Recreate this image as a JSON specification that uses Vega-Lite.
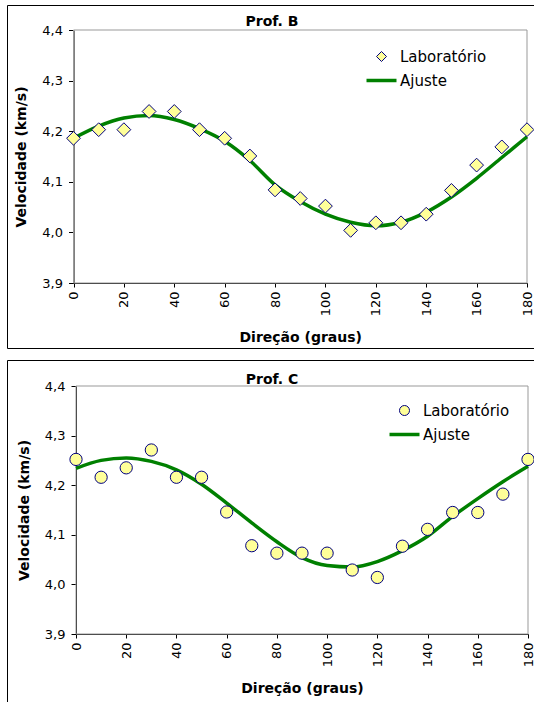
{
  "$schema": "https://vega.github.io/schema/vega-lite/v6.json",
  "padding": {"left": 6, "top": 4, "right": 0, "bottom": 0},
  "autosize": {"type": "pad"},
  "background": "white",
  "spacing": 10,
  "resolve": {
    "scale": {"shape": "independent", "fill": "independent", "stroke": "independent", "strokeWidth": "independent"},
    "legend": {"shape": "independent", "fill": "independent", "stroke": "independent", "strokeWidth": "independent"}
  },
  "config": {
    "font": "DejaVu Sans",
    "view": {"stroke": "#000000", "strokeWidth": 1},
    "axis": {"grid": false, "domainColor": "#000", "tickColor": "#000", "labelColor": "#000", "titleColor": "#000", "labelFont": "DejaVu Sans", "labelFontSize": 13, "titleFont": "DejaVu Sans", "titleFontSize": 14, "titleFontWeight": "bold", "labelOverlap": false, "labelFlush": false},
    "title": {"font": "DejaVu Sans", "fontSize": 14, "fontWeight": "bold", "color": "#000"},
    "legend": {"labelFont": "DejaVu Sans", "labelFontSize": 15, "labelColor": "#000", "padding": 0}
  },
  "datasets": {
    "bLab": [
      {"dir": 0, "vel": 4.186, "serie": "Laboratório"},
      {"dir": 10, "vel": 4.203, "serie": "Laboratório"},
      {"dir": 20, "vel": 4.203, "serie": "Laboratório"},
      {"dir": 30, "vel": 4.239, "serie": "Laboratório"},
      {"dir": 40, "vel": 4.239, "serie": "Laboratório"},
      {"dir": 50, "vel": 4.203, "serie": "Laboratório"},
      {"dir": 60, "vel": 4.186, "serie": "Laboratório"},
      {"dir": 70, "vel": 4.151, "serie": "Laboratório"},
      {"dir": 80, "vel": 4.084, "serie": "Laboratório"},
      {"dir": 90, "vel": 4.067, "serie": "Laboratório"},
      {"dir": 100, "vel": 4.052, "serie": "Laboratório"},
      {"dir": 110, "vel": 4.004, "serie": "Laboratório"},
      {"dir": 120, "vel": 4.019, "serie": "Laboratório"},
      {"dir": 130, "vel": 4.019, "serie": "Laboratório"},
      {"dir": 140, "vel": 4.036, "serie": "Laboratório"},
      {"dir": 150, "vel": 4.083, "serie": "Laboratório"},
      {"dir": 160, "vel": 4.133, "serie": "Laboratório"},
      {"dir": 170, "vel": 4.169, "serie": "Laboratório"},
      {"dir": 180, "vel": 4.203, "serie": "Laboratório"}
    ],
    "bFit": [
      {"dir": 0, "vel": 4.186, "serie": "Ajuste"},
      {"dir": 10, "vel": 4.210, "serie": "Ajuste"},
      {"dir": 20, "vel": 4.226, "serie": "Ajuste"},
      {"dir": 30, "vel": 4.231, "serie": "Ajuste"},
      {"dir": 40, "vel": 4.223, "serie": "Ajuste"},
      {"dir": 50, "vel": 4.205, "serie": "Ajuste"},
      {"dir": 60, "vel": 4.180, "serie": "Ajuste"},
      {"dir": 70, "vel": 4.142, "serie": "Ajuste"},
      {"dir": 80, "vel": 4.094, "serie": "Ajuste"},
      {"dir": 90, "vel": 4.061, "serie": "Ajuste"},
      {"dir": 100, "vel": 4.036, "serie": "Ajuste"},
      {"dir": 110, "vel": 4.020, "serie": "Ajuste"},
      {"dir": 120, "vel": 4.013, "serie": "Ajuste"},
      {"dir": 130, "vel": 4.020, "serie": "Ajuste"},
      {"dir": 140, "vel": 4.040, "serie": "Ajuste"},
      {"dir": 150, "vel": 4.070, "serie": "Ajuste"},
      {"dir": 160, "vel": 4.107, "serie": "Ajuste"},
      {"dir": 170, "vel": 4.148, "serie": "Ajuste"},
      {"dir": 180, "vel": 4.189, "serie": "Ajuste"}
    ],
    "cLab": [
      {"dir": 0, "vel": 4.252, "serie": "Laboratório"},
      {"dir": 10, "vel": 4.216, "serie": "Laboratório"},
      {"dir": 20, "vel": 4.235, "serie": "Laboratório"},
      {"dir": 30, "vel": 4.271, "serie": "Laboratório"},
      {"dir": 40, "vel": 4.216, "serie": "Laboratório"},
      {"dir": 50, "vel": 4.216, "serie": "Laboratório"},
      {"dir": 60, "vel": 4.146, "serie": "Laboratório"},
      {"dir": 70, "vel": 4.078, "serie": "Laboratório"},
      {"dir": 80, "vel": 4.063, "serie": "Laboratório"},
      {"dir": 90, "vel": 4.063, "serie": "Laboratório"},
      {"dir": 100, "vel": 4.063, "serie": "Laboratório"},
      {"dir": 110, "vel": 4.029, "serie": "Laboratório"},
      {"dir": 120, "vel": 4.014, "serie": "Laboratório"},
      {"dir": 130, "vel": 4.077, "serie": "Laboratório"},
      {"dir": 140, "vel": 4.111, "serie": "Laboratório"},
      {"dir": 150, "vel": 4.145, "serie": "Laboratório"},
      {"dir": 160, "vel": 4.145, "serie": "Laboratório"},
      {"dir": 170, "vel": 4.182, "serie": "Laboratório"},
      {"dir": 180, "vel": 4.252, "serie": "Laboratório"}
    ],
    "cFit": [
      {"dir": 0, "vel": 4.234, "serie": "Ajuste"},
      {"dir": 10, "vel": 4.250, "serie": "Ajuste"},
      {"dir": 20, "vel": 4.255, "serie": "Ajuste"},
      {"dir": 30, "vel": 4.248, "serie": "Ajuste"},
      {"dir": 40, "vel": 4.231, "serie": "Ajuste"},
      {"dir": 50, "vel": 4.202, "serie": "Ajuste"},
      {"dir": 60, "vel": 4.164, "serie": "Ajuste"},
      {"dir": 70, "vel": 4.124, "serie": "Ajuste"},
      {"dir": 80, "vel": 4.086, "serie": "Ajuste"},
      {"dir": 90, "vel": 4.054, "serie": "Ajuste"},
      {"dir": 100, "vel": 4.038, "serie": "Ajuste"},
      {"dir": 110, "vel": 4.035, "serie": "Ajuste"},
      {"dir": 120, "vel": 4.046, "serie": "Ajuste"},
      {"dir": 130, "vel": 4.068, "serie": "Ajuste"},
      {"dir": 140, "vel": 4.097, "serie": "Ajuste"},
      {"dir": 150, "vel": 4.137, "serie": "Ajuste"},
      {"dir": 160, "vel": 4.173, "serie": "Ajuste"},
      {"dir": 170, "vel": 4.207, "serie": "Ajuste"},
      {"dir": 180, "vel": 4.238, "serie": "Ajuste"}
    ]
  },
  "vconcat": [
    {
      "width": 530,
      "height": 343,
      "title": {"text": "Prof. B", "anchor": "middle", "frame": "group", "offset": -35, "baseline": "alphabetic"},
      "layer": [
        {
          "data": {"values": [{}]},
          "mark": {"type": "rect", "fillOpacity": 0, "stroke": "#999999", "strokeWidth": 1},
          "encoding": {
            "x": {"datum": 0, "type": "quantitative", "scale": {"domain": [0, 180], "range": [66.5, 520], "nice": false, "zero": false}, "axis": {"title": "Direção (graus)", "values": [0, 10, 20, 30, 40, 50, 60, 70, 80, 90, 100, 110, 120, 130, 140, 150, 160, 170, 180], "labelExpr": "datum.value % 20 === 0 ? datum.label : ''", "labelAngle": -90, "offset": -65, "tickSize": 4, "labelPadding": 4, "titlePadding": 15}},
            "x2": {"datum": 180},
            "y": {"datum": 4.4, "type": "quantitative", "scale": {"domain": [3.9, 4.4], "range": [278, 25], "nice": false, "zero": false}, "axis": {"title": "Velocidade (km/s)", "values": [3.9, 3.95, 4.0, 4.05, 4.1, 4.15, 4.2, 4.25, 4.3, 4.35, 4.4], "labelExpr": "round(datum.value * 100) % 10 === 0 ? replace(format(datum.value, '.1f'), '.', ',') : ''", "offset": -66.5, "tickSize": 5, "labelPadding": 6, "titlePadding": 13}},
            "y2": {"datum": 3.9}
          }
        },
        {
          "data": {"name": "bFit"},
          "mark": {"type": "line", "interpolate": "monotone"},
          "encoding": {
            "x": {"field": "dir", "type": "quantitative", "title": "Direção (graus)"},
            "y": {"field": "vel", "type": "quantitative", "title": "Velocidade (km/s)"},
            "stroke": {"field": "serie", "type": "nominal", "scale": {"domain": ["Laboratório", "Ajuste"], "range": ["#000080", "#008000"]}, "legend": {"title": null, "orient": "none", "legendX": 360, "legendY": 44, "symbolSize": 900, "symbolOffset": 7, "labelOffset": 11, "rowPadding": 8, "encode": {"symbols": {"update": {"size": {"signal": "datum.value === 'Ajuste' ? 900 : 100"}}}}}},
            "strokeWidth": {"field": "serie", "type": "ordinal", "scale": {"domain": ["Laboratório", "Ajuste"], "range": [1, 3.5]}, "legend": {"title": null, "orient": "none", "legendX": 360, "legendY": 44, "symbolSize": 900, "symbolOffset": 7, "labelOffset": 11, "rowPadding": 8, "encode": {"symbols": {"update": {"size": {"signal": "datum.value === 'Ajuste' ? 900 : 100"}}}}}}
          }
        },
        {
          "data": {"name": "bLab"},
          "mark": {"type": "point", "filled": true, "opacity": 1, "size": 190},
          "encoding": {
            "x": {"field": "dir", "type": "quantitative", "title": "Direção (graus)"},
            "y": {"field": "vel", "type": "quantitative", "title": "Velocidade (km/s)"},
            "shape": {"field": "serie", "type": "nominal", "scale": {"domain": ["Laboratório", "Ajuste"], "range": ["diamond", "stroke"]}, "legend": {"title": null, "orient": "none", "legendX": 360, "legendY": 44, "symbolSize": 900, "symbolOffset": 7, "labelOffset": 11, "rowPadding": 8, "encode": {"symbols": {"update": {"size": {"signal": "datum.value === 'Ajuste' ? 900 : 100"}}}}}},
            "fill": {"field": "serie", "type": "nominal", "scale": {"domain": ["Laboratório", "Ajuste"], "range": ["#FFFF99", "transparent"]}, "legend": {"title": null, "orient": "none", "legendX": 360, "legendY": 44, "symbolSize": 900, "symbolOffset": 7, "labelOffset": 11, "rowPadding": 8, "encode": {"symbols": {"update": {"size": {"signal": "datum.value === 'Ajuste' ? 900 : 100"}}}}}},
            "stroke": {"field": "serie", "type": "nominal", "scale": {"domain": ["Laboratório", "Ajuste"], "range": ["#000080", "#008000"]}, "legend": {"title": null, "orient": "none", "legendX": 360, "legendY": 44, "symbolSize": 900, "symbolOffset": 7, "labelOffset": 11, "rowPadding": 8, "encode": {"symbols": {"update": {"size": {"signal": "datum.value === 'Ajuste' ? 900 : 100"}}}}}},
            "strokeWidth": {"field": "serie", "type": "ordinal", "scale": {"domain": ["Laboratório", "Ajuste"], "range": [1, 3.5]}, "legend": {"title": null, "orient": "none", "legendX": 360, "legendY": 44, "symbolSize": 900, "symbolOffset": 7, "labelOffset": 11, "rowPadding": 8, "encode": {"symbols": {"update": {"size": {"signal": "datum.value === 'Ajuste' ? 900 : 100"}}}}}}
          }
        }
      ]
    },
    {
      "width": 530,
      "height": 350,
      "title": {"text": "Prof. C", "anchor": "middle", "frame": "group", "offset": -38, "baseline": "alphabetic"},
      "layer": [
        {
          "data": {"values": [{}]},
          "mark": {"type": "rect", "fillOpacity": 0, "stroke": "#999999", "strokeWidth": 1},
          "encoding": {
            "x": {"datum": 0, "type": "quantitative", "scale": {"domain": [0, 180], "range": [69, 521], "nice": false, "zero": false}, "axis": {"title": "Direção (graus)", "values": [0, 10, 20, 30, 40, 50, 60, 70, 80, 90, 100, 110, 120, 130, 140, 150, 160, 170, 180], "labelExpr": "datum.value % 20 === 0 ? datum.label : ''", "labelAngle": -90, "offset": -76, "tickSize": 4, "labelPadding": 4, "titlePadding": 15}},
            "x2": {"datum": 180},
            "y": {"datum": 4.4, "type": "quantitative", "scale": {"domain": [3.9, 4.4], "range": [274, 26], "nice": false, "zero": false}, "axis": {"title": "Velocidade (km/s)", "values": [3.9, 3.95, 4.0, 4.05, 4.1, 4.15, 4.2, 4.25, 4.3, 4.35, 4.4], "labelExpr": "round(datum.value * 100) % 10 === 0 ? replace(format(datum.value, '.1f'), '.', ',') : ''", "offset": -69, "tickSize": 5, "labelPadding": 6, "titlePadding": 13}},
            "y2": {"datum": 3.9}
          }
        },
        {
          "data": {"name": "cFit"},
          "mark": {"type": "line", "interpolate": "monotone"},
          "encoding": {
            "x": {"field": "dir", "type": "quantitative", "title": "Direção (graus)"},
            "y": {"field": "vel", "type": "quantitative", "title": "Velocidade (km/s)"},
            "stroke": {"field": "serie", "type": "nominal", "scale": {"domain": ["Laboratório", "Ajuste"], "range": ["#000080", "#008000"]}, "legend": {"title": null, "orient": "none", "legendX": 383, "legendY": 43, "symbolSize": 900, "symbolOffset": 7, "labelOffset": 11, "rowPadding": 8, "encode": {"symbols": {"update": {"size": {"signal": "datum.value === 'Ajuste' ? 900 : 100"}}}}}},
            "strokeWidth": {"field": "serie", "type": "ordinal", "scale": {"domain": ["Laboratório", "Ajuste"], "range": [1, 3.5]}, "legend": {"title": null, "orient": "none", "legendX": 383, "legendY": 43, "symbolSize": 900, "symbolOffset": 7, "labelOffset": 11, "rowPadding": 8, "encode": {"symbols": {"update": {"size": {"signal": "datum.value === 'Ajuste' ? 900 : 100"}}}}}}
          }
        },
        {
          "data": {"name": "cLab"},
          "mark": {"type": "point", "filled": true, "opacity": 1, "size": 150},
          "encoding": {
            "x": {"field": "dir", "type": "quantitative", "title": "Direção (graus)"},
            "y": {"field": "vel", "type": "quantitative", "title": "Velocidade (km/s)"},
            "shape": {"field": "serie", "type": "nominal", "scale": {"domain": ["Laboratório", "Ajuste"], "range": ["circle", "stroke"]}, "legend": {"title": null, "orient": "none", "legendX": 383, "legendY": 43, "symbolSize": 900, "symbolOffset": 7, "labelOffset": 11, "rowPadding": 8, "encode": {"symbols": {"update": {"size": {"signal": "datum.value === 'Ajuste' ? 900 : 100"}}}}}},
            "fill": {"field": "serie", "type": "nominal", "scale": {"domain": ["Laboratório", "Ajuste"], "range": ["#FFFF99", "transparent"]}, "legend": {"title": null, "orient": "none", "legendX": 383, "legendY": 43, "symbolSize": 900, "symbolOffset": 7, "labelOffset": 11, "rowPadding": 8, "encode": {"symbols": {"update": {"size": {"signal": "datum.value === 'Ajuste' ? 900 : 100"}}}}}},
            "stroke": {"field": "serie", "type": "nominal", "scale": {"domain": ["Laboratório", "Ajuste"], "range": ["#000080", "#008000"]}, "legend": {"title": null, "orient": "none", "legendX": 383, "legendY": 43, "symbolSize": 900, "symbolOffset": 7, "labelOffset": 11, "rowPadding": 8, "encode": {"symbols": {"update": {"size": {"signal": "datum.value === 'Ajuste' ? 900 : 100"}}}}}},
            "strokeWidth": {"field": "serie", "type": "ordinal", "scale": {"domain": ["Laboratório", "Ajuste"], "range": [1, 3.5]}, "legend": {"title": null, "orient": "none", "legendX": 383, "legendY": 43, "symbolSize": 900, "symbolOffset": 7, "labelOffset": 11, "rowPadding": 8, "encode": {"symbols": {"update": {"size": {"signal": "datum.value === 'Ajuste' ? 900 : 100"}}}}}}
          }
        }
      ]
    }
  ]
}
